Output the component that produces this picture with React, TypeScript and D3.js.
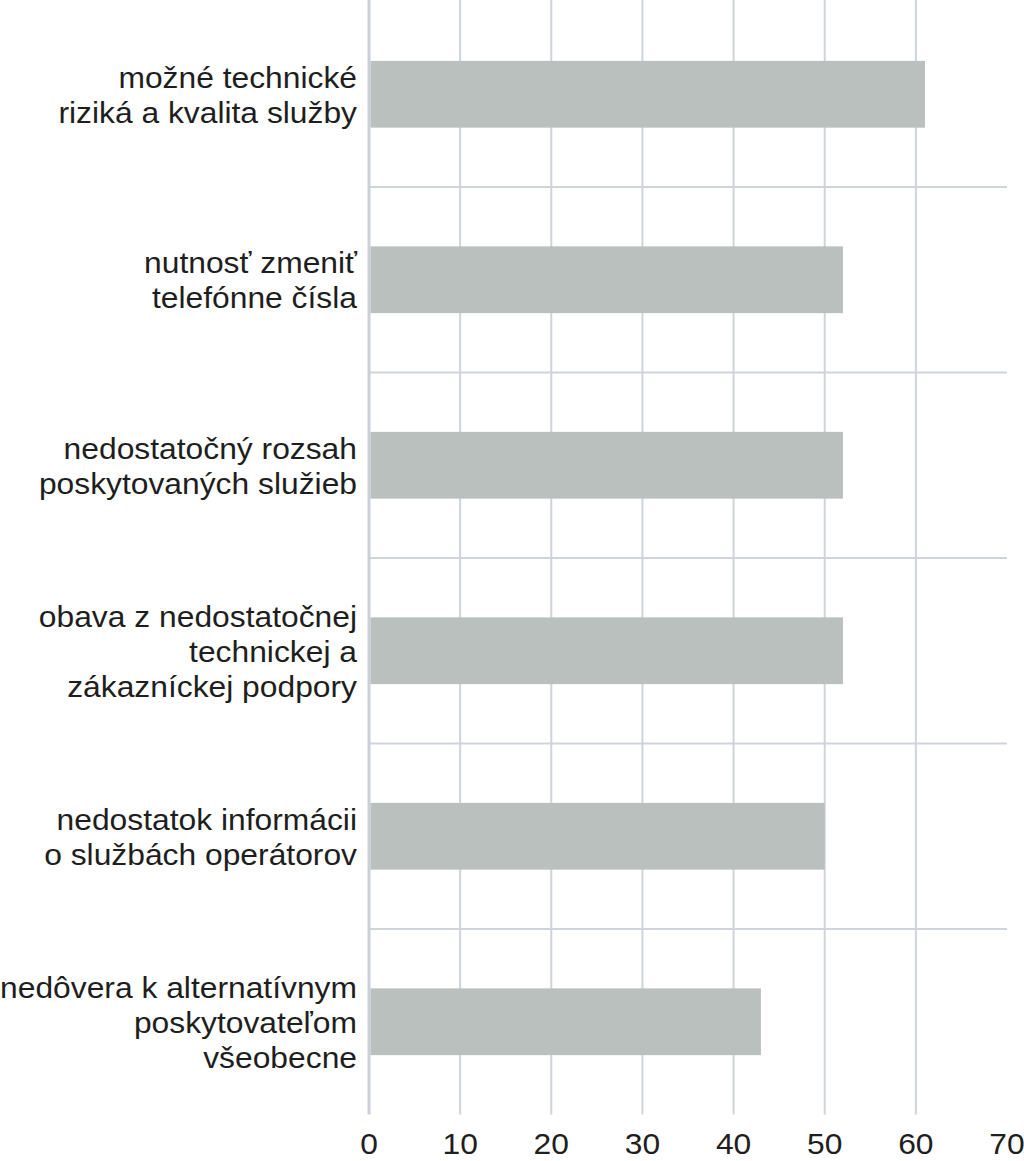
import React from "react";
import * as d3 from "d3";

const categories: string[][] = [
  ["možné technické", "riziká a kvalita služby"],
  ["nutnosť zmeniť", "telefónne čísla"],
  ["nedostatočný rozsah", "poskytovaných služieb"],
  ["obava z nedostatočnej", "technickej a", "zákazníckej podpory"],
  ["nedostatok informácii", "o službách operátorov"],
  ["nedôvera k alternatívnym", "poskytovateľom", "všeobecne"],
];
const values: number[] = [61, 52, 52, 52, 50, 43];
const ticks: number[] = [0, 10, 20, 30, 40, 50, 60, 70];

const W = 1024;
const H = 1161;
const left = 369;
const right = 1007;
const top = 1.5;
const bottom = 1114.5;
const fontSize = 30;
const lineH = 35;
const stretch = 1.06;

export default function App() {
  const keys = categories.map((_, i) => String(i));
  const x = d3.scaleLinear().domain([0, 70]).range([left, right]);
  const band = d3.scaleBand().domain(keys).range([top, bottom]).padding(0);
  const y = d3
    .scaleBand()
    .domain(keys)
    .range([top, bottom])
    .paddingInner(0.64)
    .paddingOuter(0.32);

  const gridColor = "#cfd4db";
  const font = "'Liberation Sans', Arial, Helvetica, sans-serif";

  return (
    <svg
      width={W}
      height={H}
      style={{ position: "absolute", left: 0, top: 0, background: "#fff" }}
    >
      {keys.slice(1).map((k) => (
        <line
          key={"h" + k}
          x1={left}
          x2={right}
          y1={band(k)!}
          y2={band(k)!}
          stroke={gridColor}
          strokeWidth={2}
        />
      ))}
      {ticks
        .filter((t) => t < 70)
        .map((t) => (
          <line
            key={"v" + t}
            x1={x(t)}
            x2={x(t)}
            y1={0}
            y2={bottom}
            stroke={t === 0 ? "#c9d0d8" : gridColor}
            strokeWidth={t === 0 ? 3 : 2}
          />
        ))}
      {values.map((v, i) => (
        <rect
          key={"b" + i}
          x={x(0) + 1.5}
          y={y(keys[i])!}
          width={x(v) - x(0) - 1.5}
          height={y.bandwidth()}
          fill="#b9c0bd"
        />
      ))}
      {categories.map((lines, i) => {
        const cy = band(keys[i])! + band.bandwidth() / 2;
        const y0 = cy - ((lines.length - 1) * lineH) / 2 + fontSize * 0.36;
        return (
          <g key={"l" + i} transform={`translate(357,0) scale(${stretch},1)`}>
            <text
              textAnchor="end"
              fontFamily={font}
              fontSize={fontSize}
              fill="#1e1e1e"
            >
              {lines.map((ln, j) => (
                <tspan key={j} x={0} y={y0 + j * lineH}>
                  {ln}
                </tspan>
              ))}
            </text>
          </g>
        );
      })}
      {ticks.map((t) => (
        <g key={"t" + t} transform={`translate(${x(t)},0) scale(${stretch},1)`}>
          <text
            x={0}
            y={1154}
            textAnchor="middle"
            fontFamily={font}
            fontSize={fontSize}
            fill="#1e1e1e"
          >
            {t}
          </text>
        </g>
      ))}
    </svg>
  );
}
